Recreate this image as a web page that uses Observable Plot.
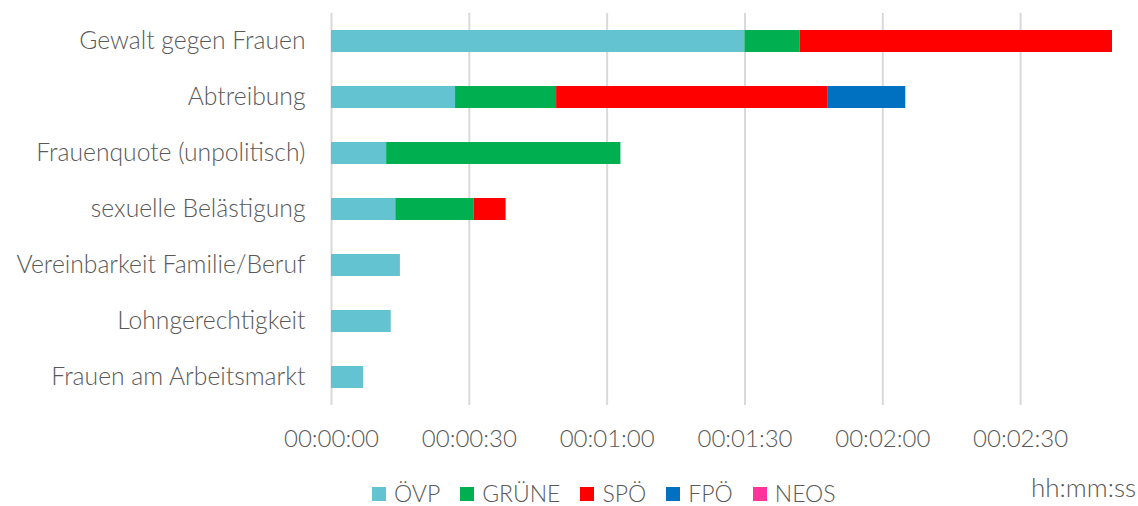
<!DOCTYPE html>
<html>
<head>
<meta charset="utf-8">
<script src="https://cdn.jsdelivr.net/npm/d3@7"></script>
<script src="https://cdn.jsdelivr.net/npm/@observablehq/plot@0.6"></script>
<style>
  body { margin: 0; background: #fff; }
  #wrap { position: relative; width: 1138px; height: 506px; overflow: hidden; font-family: "Lato", sans-serif; font-weight: 300; color: #595959; }
  #legend { position: absolute; top: 482px; left: 372px; display: flex; align-items: center; font-size: 23px; line-height: 23px; height: 23px; }
  .item { display: flex; align-items: center; margin-right: 20px; }
  .sw { width: 14px; height: 14px; margin-right: 8px; }
  #unit { position: absolute; top: 474px; right: 2px; font-size: 26px; line-height: 26px; }
</style>
</head>
<body>
<div id="wrap">
  <div id="chart"></div>
  <div id="legend"></div>
  <div id="unit">hh:mm:ss</div>
</div>
<script>
const categories = ["Gewalt gegen Frauen", "Abtreibung", "Frauenquote (unpolitisch)", "sexuelle Belästigung", "Vereinbarkeit Familie/Beruf", "Lohngerechtigkeit", "Frauen am Arbeitsmarkt"];
const parties = ["ÖVP", "GRÜNE", "SPÖ", "FPÖ", "NEOS"];
const colors = ["#63C3D1", "#00B050", "#FF0000", "#0070C0", "#FF3399"];
// seconds
const oevp  = [90, 27, 12, 14, 15, 13, 7];
const gruene = [12, 22, 51, 17, 0, 0, 0];
const spoe  = [68, 59, 0, 7, 0, 0, 0];
const fpoe  = [0, 17, 0, 0, 0, 0, 0];
const neos  = [0, 0, 0, 0, 0, 0, 0];
const xTicks = [0, 30, 60, 90, 120, 150];

const series = [oevp, gruene, spoe, fpoe, neos];
const rows = [];
parties.forEach((p, i) => categories.forEach((c, j) => {
  if (series[i][j] > 0) rows.push({party: p, topic: c, sec: series[i][j]});
}));

const fmt = s => {
  const h = Math.floor(s / 3600), m = Math.floor((s % 3600) / 60), ss = s % 60;
  return [h, m, ss].map(v => String(v).padStart(2, "0")).join(":");
};

const chart = Plot.plot({
  width: 1138,
  height: 470,
  marginTop: 13,
  marginBottom: 65,
  marginLeft: 331,
  marginRight: 26,
  style: {fontFamily: "Lato, sans-serif", fontWeight: 300, fontSize: "24px", color: "#595959", background: "#fff"},
  x: {domain: [0, 170], ticks: xTicks, tickFormat: fmt, label: null},
  y: {domain: categories, label: null, paddingInner: 0.6, paddingOuter: 0.3},
  color: {domain: parties, range: colors},
  marks: [
    Plot.gridX(xTicks, {stroke: "#d9d9d9", strokeOpacity: 1, strokeWidth: 2}),
    Plot.axisX({ticks: xTicks, tickFormat: fmt, tickSize: 0, tickPadding: 24, fontSize: 24, label: null}),
    Plot.axisY({tickSize: 0, tickPadding: 26, fontSize: 24.7, label: null}),
    Plot.barX(rows, Plot.stackX({x: "sec", y: "topic", fill: "party", order: parties}))
  ]
});
document.getElementById("chart").appendChild(chart);

const legend = document.getElementById("legend");
parties.forEach((p, i) => {
  const it = document.createElement("div");
  it.className = "item";
  it.innerHTML = `<span class="sw" style="background:${colors[i]}"></span><span>${p}</span>`;
  legend.appendChild(it);
});
</script>
</body>
</html>
